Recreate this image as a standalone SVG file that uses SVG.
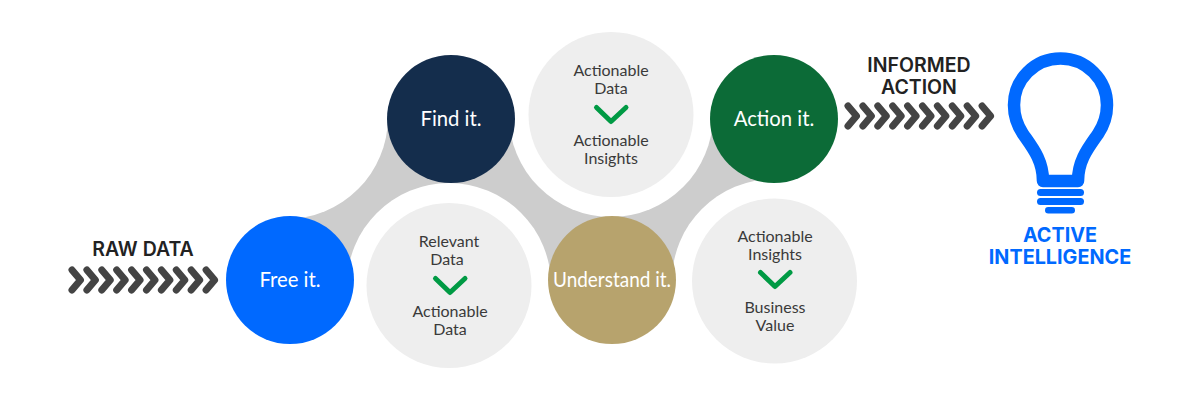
<svg xmlns="http://www.w3.org/2000/svg" xmlns:xlink="http://www.w3.org/1999/xlink" width="1200" height="400" viewBox="0 0 1200 400">
<style>
.n{font-family:"Lato","Liberation Sans",sans-serif;font-size:20.300px;fill:#fff;text-anchor:middle}
.l{font-family:"Lato","Liberation Sans",sans-serif;font-size:16px;fill:#3a3a3a;text-anchor:middle}
.h{font-family:"Inter","Liberation Sans",sans-serif;font-size:19.500px;font-weight:600;fill:#222;text-anchor:middle}
.b{font-family:"Inter","Liberation Sans",sans-serif;font-size:19.800px;font-weight:700;fill:#0069ff;text-anchor:middle}
.chk{fill:none;stroke:#009a44;stroke-width:5;stroke-linecap:round;stroke-linejoin:round}
.halo{fill:#fff}.lt{fill:#eee}
</style>
<defs>
<path id="c" d="M0-10L8.500 0L0 10" fill="none" stroke="#444" stroke-width="7" stroke-linecap="round" stroke-linejoin="round"/>
<g id="run"><use xlink:href="#c" x="0"/><use xlink:href="#c" x="14.9"/><use xlink:href="#c" x="29.8"/><use xlink:href="#c" x="44.7"/><use xlink:href="#c" x="59.6"/><use xlink:href="#c" x="74.5"/><use xlink:href="#c" x="89.4"/><use xlink:href="#c" x="104.3"/><use xlink:href="#c" x="119.2"/><use xlink:href="#c" x="134.1"/></g>
</defs>
<rect width="1200" height="400" fill="#fff"/>
<g id="connectors">
<path d="M290 280L300 205L385 115L451 119L520 120L700 120L774 119L780 170L720 230L660 290L612 280L540 285L350 285Z" fill="#cdcdcd"/>
<circle class="halo" cx="286" cy="117" r="102"/>
<circle class="halo" cx="449" cy="285" r="102"/>
<circle class="halo" cx="611" cy="115" r="102"/>
<circle class="halo" cx="774" cy="281" r="102"/>
<use xlink:href="#run" x="72" y="280"/>
<use xlink:href="#run" x="848" y="116"/>
</g>
<g id="raw-data"><text class="h" x="143" y="256">RAW DATA</text></g>
<g id="free"><circle cx="290" cy="280" r="64" fill="#0069ff"/><text class="n" x="290" y="287">Free it.</text></g>
<g id="find"><circle cx="451" cy="119" r="64" fill="#142d4c"/><text class="n" x="451" y="126">Find it.</text></g>
<g id="understand"><circle cx="612" cy="280" r="64" fill="#b7a36d"/><text class="n" x="612" y="287" textLength="118" lengthAdjust="spacingAndGlyphs">Understand it.</text></g>
<g id="action"><circle cx="774" cy="119" r="64" fill="#0c6b37"/><text class="n" x="774" y="126">Action it.</text></g>
<g id="relevant"><circle class="lt" cx="449" cy="285.500" r="82.500"/><text class="l" x="449" y="247">Relevant</text><text class="l" x="447" y="265">Data</text><path class="chk" d="M435.500 278.500L450 292.500L465 278.500"/><text class="l" x="450" y="317">Actionable</text><text class="l" x="450" y="335">Data</text></g>
<g id="actionable"><circle class="lt" cx="611" cy="114.500" r="82.500"/><text class="l" x="611" y="76">Actionable</text><text class="l" x="611" y="94">Data</text><path class="chk" d="M596.500 107.500L611 121.500L626 107.500"/><text class="l" x="611" y="146">Actionable</text><text class="l" x="611" y="164">Insights</text></g>
<g id="insights"><circle class="lt" cx="774.500" cy="281" r="82.500"/><text class="l" x="775" y="242">Actionable</text><text class="l" x="775" y="260">Insights</text><path class="chk" d="M760.500 272.500L775 286.500L790 272.500"/><text class="l" x="775" y="313">Business</text><text class="l" x="775" y="331">Value</text></g>
<g id="informed"><text class="h" x="919" y="72">INFORMED</text><text class="h" x="919" y="94">ACTION</text></g>
<g id="bulb">
<path d="M1043 181C1043 160 1032 147 1023 134C1017 125 1014 116 1014 105A46.500 46.500 0 0 1 1107 105C1107 116 1104 125 1098 134C1089 147 1078 160 1078 181Z" fill="none" stroke="#0069ff" stroke-width="12.500" stroke-linejoin="round"/>
<rect x="1037" y="189" width="47" height="7" rx="3.500" fill="#0069ff"/><rect x="1037" y="198" width="47" height="7" rx="3.500" fill="#0069ff"/><rect x="1045" y="207" width="30" height="6.500" rx="3.250" fill="#0069ff"/>
<text class="b" x="1060" y="242">ACTIVE</text><text class="b" x="1060" y="264">INTELLIGENCE</text>
</g>
</svg>
